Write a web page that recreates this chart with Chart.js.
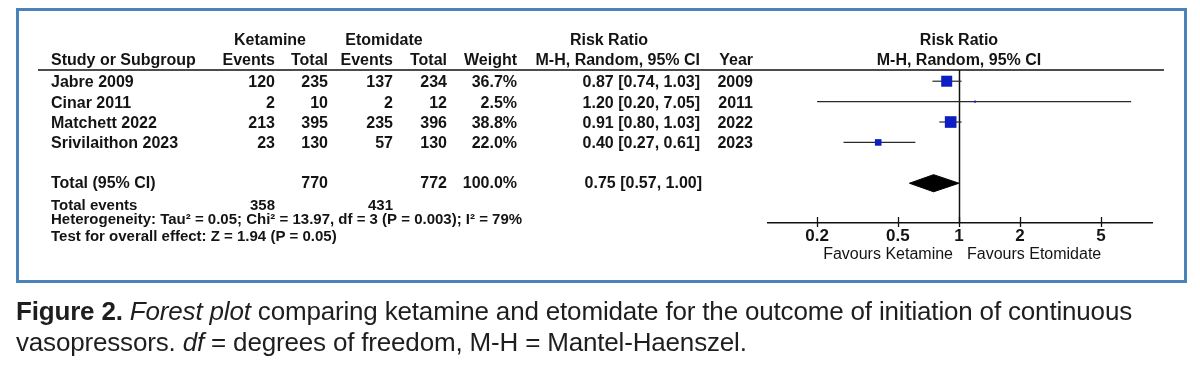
<!DOCTYPE html>
<html>
<head>
<meta charset="utf-8">
<script src="https://cdn.jsdelivr.net/npm/chart.js@4.4.1/dist/chart.umd.min.js"></script>
<style>
  html, body { margin:0; padding:0; background:#ffffff; }
  #wrap { position:relative; width:1200px; height:370px; overflow:hidden; background:#fff; }
  #c { position:absolute; left:0; top:0; }
  #cap { position:absolute; left:16px; top:296px; font-family:"Liberation Sans", Arial, sans-serif;
         font-size:26px; line-height:31px; color:#1e1e1e; white-space:nowrap; }
  #cap b { font-weight:bold; }
</style>
</head>
<body>
<div id="wrap">
  <canvas id="c" width="1200" height="370"></canvas>
  <div id="cap"><span id="l1"><b>Figure 2.</b> <i>Forest plot</i> comparing ketamine and etomidate for the outcome of initiation of continuous</span><br><span id="l2">vasopressors. <i>df</i> = degrees of freedom, M-H = Mantel-Haenszel.</span></div>
</div>
<script>
// ---------------- data ----------------
const studies      = ['Jabre 2009', 'Cinar 2011', 'Matchett 2022', 'Srivilaithon 2023'];
const ketEvents    = [120, 2, 213, 23];
const ketTotals    = [235, 10, 395, 130];
const etoEvents    = [137, 2, 235, 57];
const etoTotals    = [234, 12, 396, 130];
const weights      = [36.7, 2.5, 38.8, 22.0];
const riskRatios   = [0.87, 1.20, 0.91, 0.40];
const ciLower      = [0.74, 0.20, 0.80, 0.27];
const ciUpper      = [1.03, 7.05, 1.03, 0.61];
const years        = [2009, 2011, 2022, 2023];
const pooled       = [0.75, 0.57, 1.00];   // estimate, lower, upper
const totalN       = [770, 772];           // ketamine, etomidate
const totalEvents  = [358, 431];           // ketamine, etomidate
const totalWeight  = 100.0;
const tickValues   = [0.2, 0.5, 1, 2, 5];
const tickLabels   = ['0.2', '0.5', '1', '2', '5'];
const favourLabels = ['Favours Ketamine', 'Favours Etomidate'];
const heterogeneityText = 'Heterogeneity: Tau\u00B2 = 0.05; Chi\u00B2 = 13.97, df = 3 (P = 0.003); I\u00B2 = 79%';
const overallText       = 'Test for overall effect: Z = 1.94 (P = 0.05)';

// ---------------- layout ----------------
const TOTAL_ROW = 5;
const COL = { study:51, ketEv:275, ketTot:328, etoEv:393, etoTot:447, weight:517, rr:700, year:753 };
const FONT_B = 'bold 16px "Liberation Sans", Arial, sans-serif';
const FONT_F = 'bold 15px "Liberation Sans", Arial, sans-serif';
const INK = '#141414';
const BLUE = '#0d1fc2';
const SQUARE_PER_WEIGHT = 0.3;

// datasets
const squareData = studies.map((s, i) => ({ x: riskRatios[i], y: i }));
const squareRadius = weights.map(w => Math.max(2, w * SQUARE_PER_WEIGHT) / (2 * Math.SQRT1_2));
const whiskerSets = studies.map((s, i) => ({
  type: 'line',
  data: [{ x: ciLower[i], y: i }, { x: ciUpper[i], y: i }],
  borderColor: '#2a2a2a', borderWidth: 1.2, pointRadius: 0, fill: false, order: 2
}));
const DIAMOND_HALF = 0.42;
const diamondSet = {
  type: 'line',
  data: [
    { x: pooled[1], y: TOTAL_ROW },
    { x: pooled[0], y: TOTAL_ROW - DIAMOND_HALF },
    { x: pooled[2], y: TOTAL_ROW },
    { x: pooled[0], y: TOTAL_ROW + DIAMOND_HALF },
    { x: pooled[1], y: TOTAL_ROW }
  ],
  borderColor: '#000', backgroundColor: '#000', borderWidth: 1, pointRadius: 0,
  fill: 'shape', tension: 0, order: 1
};

function txt(ctx, s, x, y, align, font, maxW) {
  ctx.font = font; ctx.textAlign = align; ctx.textBaseline = 'alphabetic';
  if (maxW) ctx.fillText(s, x, y, maxW); else ctx.fillText(s, x, y);
}

const forestPlugin = {
  id: 'forest',
  beforeDraw(chart) {
    const ctx = chart.ctx;
    ctx.save();
    ctx.fillStyle = '#fff';
    ctx.fillRect(0, 0, chart.width, chart.height);
    ctx.strokeStyle = '#4a83b8';
    ctx.lineWidth = 3;
    ctx.strokeRect(17.5, 9.5, 1168, 272);
    ctx.restore();
  },
  beforeDatasetsDraw(chart) {
    const ctx = chart.ctx, xs = chart.scales.x, a = chart.chartArea;
    const x1 = Math.round(xs.getPixelForValue(1)) + 0.5;
    ctx.save();
    ctx.strokeStyle = '#111'; ctx.lineWidth = 1.5;
    ctx.beginPath(); ctx.moveTo(x1, a.top); ctx.lineTo(x1, a.bottom); ctx.stroke();
    ctx.restore();
  },
  afterDraw(chart) {
    const ctx = chart.ctx, xs = chart.scales.x, ys = chart.scales.y, a = chart.chartArea;
    const x1 = xs.getPixelForValue(1);
    ctx.save();
    ctx.fillStyle = INK;
    // header line
    ctx.strokeStyle = '#111'; ctx.lineWidth = 1.5;
    ctx.beginPath(); ctx.moveTo(38, a.top); ctx.lineTo(1164, a.top); ctx.stroke();
    // tick marks crossing axis
    ctx.lineWidth = 1.3;
    tickValues.forEach(v => {
      const px = Math.round(xs.getPixelForValue(v)) + 0.5;
      ctx.beginPath(); ctx.moveTo(px, a.bottom - 6); ctx.lineTo(px, a.bottom + 4); ctx.stroke();
    });
    // headers
    const h1 = a.top - 25, h2 = a.top - 5;
    txt(ctx, 'Ketamine', 270, h1, 'center', FONT_B);
    txt(ctx, 'Etomidate', 384, h1, 'center', FONT_B);
    txt(ctx, 'Risk Ratio', 609, h1, 'center', FONT_B);
    txt(ctx, 'Risk Ratio', x1, h1, 'center', FONT_B);
    txt(ctx, 'Study or Subgroup', COL.study, h2, 'left', FONT_B);
    txt(ctx, 'Events', COL.ketEv, h2, 'right', FONT_B);
    txt(ctx, 'Total', COL.ketTot, h2, 'right', FONT_B);
    txt(ctx, 'Events', COL.etoEv, h2, 'right', FONT_B);
    txt(ctx, 'Total', COL.etoTot, h2, 'right', FONT_B);
    txt(ctx, 'Weight', COL.weight, h2, 'right', FONT_B);
    txt(ctx, 'M-H, Random, 95% CI', COL.rr, h2, 'right', FONT_B);
    txt(ctx, 'Year', COL.year, h2, 'right', FONT_B);
    txt(ctx, 'M-H, Random, 95% CI', x1, h2, 'center', FONT_B);
    // study rows
    studies.forEach((s, i) => {
      const y = ys.getPixelForValue(i) + 6;
      txt(ctx, s, COL.study, y, 'left', FONT_B);
      txt(ctx, String(ketEvents[i]), COL.ketEv, y, 'right', FONT_B);
      txt(ctx, String(ketTotals[i]), COL.ketTot, y, 'right', FONT_B);
      txt(ctx, String(etoEvents[i]), COL.etoEv, y, 'right', FONT_B);
      txt(ctx, String(etoTotals[i]), COL.etoTot, y, 'right', FONT_B);
      txt(ctx, weights[i].toFixed(1) + '%', COL.weight, y, 'right', FONT_B);
      txt(ctx, riskRatios[i].toFixed(2) + ' [' + ciLower[i].toFixed(2) + ', ' + ciUpper[i].toFixed(2) + ']', COL.rr, y, 'right', FONT_B);
      txt(ctx, String(years[i]), COL.year, y, 'right', FONT_B);
    });
    // total row
    const yt = ys.getPixelForValue(TOTAL_ROW) + 5;
    txt(ctx, 'Total (95% CI)', COL.study, yt, 'left', FONT_B);
    txt(ctx, String(totalN[0]), COL.ketTot, yt, 'right', FONT_B);
    txt(ctx, String(totalN[1]), COL.etoTot, yt, 'right', FONT_B);
    txt(ctx, totalWeight.toFixed(1) + '%', COL.weight, yt, 'right', FONT_B);
    txt(ctx, pooled[0].toFixed(2) + ' [' + pooled[1].toFixed(2) + ', ' + pooled[2].toFixed(2) + ']', COL.rr + 2, yt, 'right', FONT_B);
    // footnotes
    txt(ctx, 'Total events', COL.study, yt + 22, 'left', FONT_F, 89);
    txt(ctx, String(totalEvents[0]), COL.ketEv, yt + 22, 'right', FONT_F);
    txt(ctx, String(totalEvents[1]), COL.etoEv, yt + 22, 'right', FONT_F);
    txt(ctx, heterogeneityText, COL.study, yt + 36, 'left', FONT_F, 539);
    txt(ctx, overallText, COL.study, yt + 53, 'left', FONT_F, 316);
    // favours labels
    const yf = a.bottom + 36;
    txt(ctx, favourLabels[0], x1 - 6, yf, 'right', '16px "Liberation Sans", Arial, sans-serif');
    txt(ctx, favourLabels[1], x1 + 8, yf, 'left', '16px "Liberation Sans", Arial, sans-serif');
    ctx.restore();
  }
};

const chart = new Chart(document.getElementById('c'), {
  type: 'scatter',
  data: {
    datasets: [
      {
        type: 'scatter', data: squareData, pointStyle: 'rect',
        pointRadius: squareRadius, pointHoverRadius: squareRadius,
        backgroundColor: BLUE, borderColor: BLUE, borderWidth: 0, order: 0
      },
      ...whiskerSets,
      diamondSet
    ]
  },
  options: {
    responsive: false, animation: false, devicePixelRatio: 1,
    layout: { padding: { left: 768, right: 48, top: 70, bottom: 0 } },
    plugins: { legend: { display: false }, tooltip: { enabled: false } },
    scales: {
      x: {
        type: 'logarithmic', position: 'bottom', min: 0.1146, max: 8.93, bounds: 'data',
        grid: { display: false },
        border: { display: true, color: '#111', width: 1.5 },
        afterBuildTicks: s => { s.ticks = tickValues.map(v => ({ value: v })); },
        afterFit: s => { s.height = 370 - 223; },
        ticks: {
          autoSkip: false, maxRotation: 0, minRotation: 0, padding: -5, color: INK,
          font: { family: '"Liberation Sans", Arial, sans-serif', size: 17, weight: 'bold' },
          callback: (v) => { const k = tickValues.indexOf(v); return k >= 0 ? tickLabels[k] : ''; }
        }
      },
      y: { type: 'linear', reverse: true, min: -0.55, max: 6.95, display: false }
    }
  },
  plugins: [forestPlugin]
});

// fit caption line 1 to reference width
(function fitCaption() {
  const l1 = document.getElementById('l1');
  const w = l1.getBoundingClientRect().width;
  const chars = l1.textContent.length;
  const ls = (1116 - w) / chars;
  document.getElementById('cap').style.letterSpacing = ls.toFixed(3) + 'px';
})();
</script>
</body>
</html>
